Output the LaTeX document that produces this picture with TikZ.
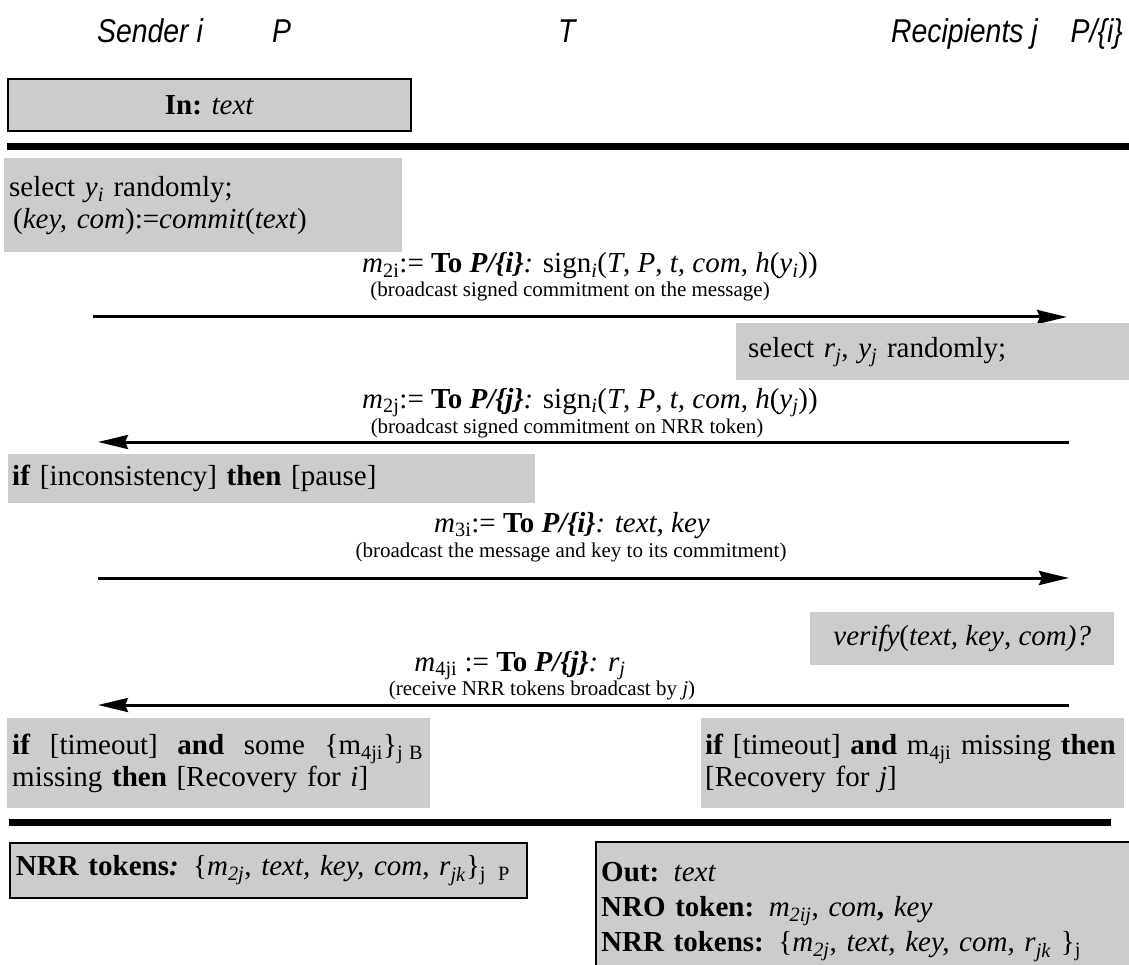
\documentclass[tikz,border=0pt]{standalone}
\usepackage{fontspec}
\setmainfont{Liberation Serif}
\newfontfamily\hdfont[FakeStretch=0.86]{Liberation Sans}
\usetikzlibrary{arrows.meta}
\definecolor{boxgray}{RGB}{204,204,204}
\newcommand\mainsz{\fontsize{29}{32}\selectfont}
\newcommand\captsz{\fontsize{21}{23}\selectfont}
\newcommand\headsz{\hdfont\itshape\fontsize{33}{36}\selectfont}
\newcommand\low[1]{\textsubscript{#1}}

\begin{document}
\begin{tikzpicture}[x=1pt,y=-1pt,
	head/.style={font=\headsz, anchor=base west, inner sep=0pt},
	lbl/.style={font=\mainsz, anchor=base, inner sep=0pt},
	cpt/.style={font=\captsz, anchor=base, inner sep=0pt},
	gbox/.style={fill=boxgray, font=\mainsz, anchor=north west, inner ysep=0pt, align=left},
	fbox/.style={gbox, draw, line width=2pt},
	msg/.style={line width=3pt, -{Stealth[length=30pt,width=14pt,inset=3pt]}},
	sep/.style={line width=7pt}]
	\useasboundingbox (0,0) rectangle (1129,965);

	\node[head] (snd) at (97,43) {Sender i};
	\node[head] (sndp) at (272,43) {P};
	\node[head] (ttp) at (558,43) {T};
	\node[head, anchor=base east] (rcp) at (1038,43) {Recipients j};
	\node[head, anchor=base east] (rcpp) at (1123,43) {P/\{i\}};

	\node[fbox, minimum width=403pt, minimum height=52pt, align=center] (in) at (7,78) {\textbf{In:} \textit{text}};
	\coordinate (t1) at (7,147);
	\coordinate (t2) at (1135,147);
	\draw[sep] (t1) -- (t2);

	\node[gbox, text width=388pt, inner xsep=5pt, minimum height=94pt] (sel) at (4,158)
		{select \textit{y}\low{\textit{i}} randomly;\\ \hspace*{4pt}(\textit{key, com}):=\textit{commit}(\textit{text})};

	\node[lbl] (m2i) at (590,273) {\textit{m}\low{2i}:= \textbf{To} \textbf{\textit{P/\{i\}}}\textit{:} sign\low{\textit{i}}(\textit{T}, \textit{P}, \textit{t, com}, \textit{h}(\textit{y}\low{\textit{i}}))};
	\node[cpt] (c2i) at (570,297) {(broadcast signed commitment on the message)};
	\coordinate (a1s) at (93,317);
	\coordinate (a1e) at (1067,317);
	\draw[msg] (a1s) -- (a1e);

	\node[gbox, text width=375pt, inner xsep=12pt, minimum height=57pt] (selr) at (736,323)
		{select \textit{r}\low{\textit{j}}, \textit{y}\low{\textit{j}} randomly;};

	\node[lbl] (m2j) at (590,408) {\textit{m}\low{2j}:= \textbf{To} \textbf{\textit{P/\{j\}}}\textit{:} sign\low{\textit{i}}(\textit{T}, \textit{P}, \textit{t, com}, \textit{h}(\textit{y}\low{\textit{j}}))};
	\node[cpt] (c2j) at (567,433) {(broadcast signed commitment on NRR token)};
	\coordinate (a2s) at (1069,442);
	\coordinate (a2e) at (98,442);
	\draw[msg] (a2s) -- (a2e);

	\node[gbox, text width=519pt, inner xsep=4pt, minimum height=49pt] (incons) at (8,454)
		{\textbf{if} [inconsistency] \textbf{then} [pause]};

	\node[lbl] (m3i) at (572,532) {\textit{m}\low{3i}:= \textbf{To} \textbf{\textit{P/\{i\}}}\textit{: text, key}};
	\node[cpt] (c3i) at (571,557) {(broadcast the message and key to its commitment)};
	\coordinate (a3s) at (98,578);
	\coordinate (a3e) at (1069,578);
	\draw[msg] (a3s) -- (a3e);

	\node[gbox, minimum width=304pt, minimum height=53pt, align=center] (ver) at (810,612)
		{\textit{verify}(\textit{text, key}, \textit{com)?}};

	\node[lbl] (m4ji) at (520,671) {\textit{m}\low{4ji} := \textbf{To} \textbf{\textit{P/\{j\}}}\textit{:} \textit{r}\low{\textit{j}}};
	\node[cpt] (c4ji) at (542,695) {(receive NRR tokens broadcast by \textit{j})};
	\coordinate (a4s) at (1069,705);
	\coordinate (a4e) at (98,705);
	\draw[msg] (a4s) -- (a4e);

	\node[gbox, text width=413pt, inner xsep=5pt, minimum height=90pt] (reci) at (7,718)
		{\hbox to 411pt{\textbf{if}\hfil[timeout]\hfil\textbf{and}\hfil some\hfil\{m\low{4ji}\}\low{j}\hspace{6pt}\low{B}}\\ missing \textbf{then} [Recovery for \textit{i}]};
	\node[gbox, text width=415pt, inner xsep=4pt, minimum height=90pt] (recj) at (701,718)
		{\textbf{if} [timeout] \textbf{and} m\low{4ji} missing \textbf{then}\\ {}[Recovery for \textit{j}]};

	\coordinate (b1) at (9,822);
	\coordinate (b2) at (1111,822);
	\draw[sep] (b1) -- (b2);

	\node[fbox, text width=505pt, inner xsep=6pt, minimum height=55pt] (nrr) at (9,842)
		{\textbf{NRR tokens}\textbf{\textit{:}} \{\textit{m}\low{\textit{2j}}, \textit{text, key, com, r}\low{\textit{jk}}\}\low{j}\hspace{12pt}\low{P}};
	\node[gbox, text width=530pt, inner xsep=5pt, minimum height=140pt, font=\fontsize{29}{35}\selectfont] (out) at (596,842)
		{\textbf{Out:} \textit{text}\\
		\textbf{NRO token:} \textit{m}\low{\textit{2ij}}, \textit{com}\textbf{,} \textit{key}\\
		\textbf{NRR tokens:} \{\textit{m}\low{\textit{2j}}, \textit{text, key, com, r}\low{\textit{jk}} \}\low{j}};
	\draw[line width=2pt] (out.south west) -- (out.north west) -- (out.north east);
\end{tikzpicture}
\end{document}
